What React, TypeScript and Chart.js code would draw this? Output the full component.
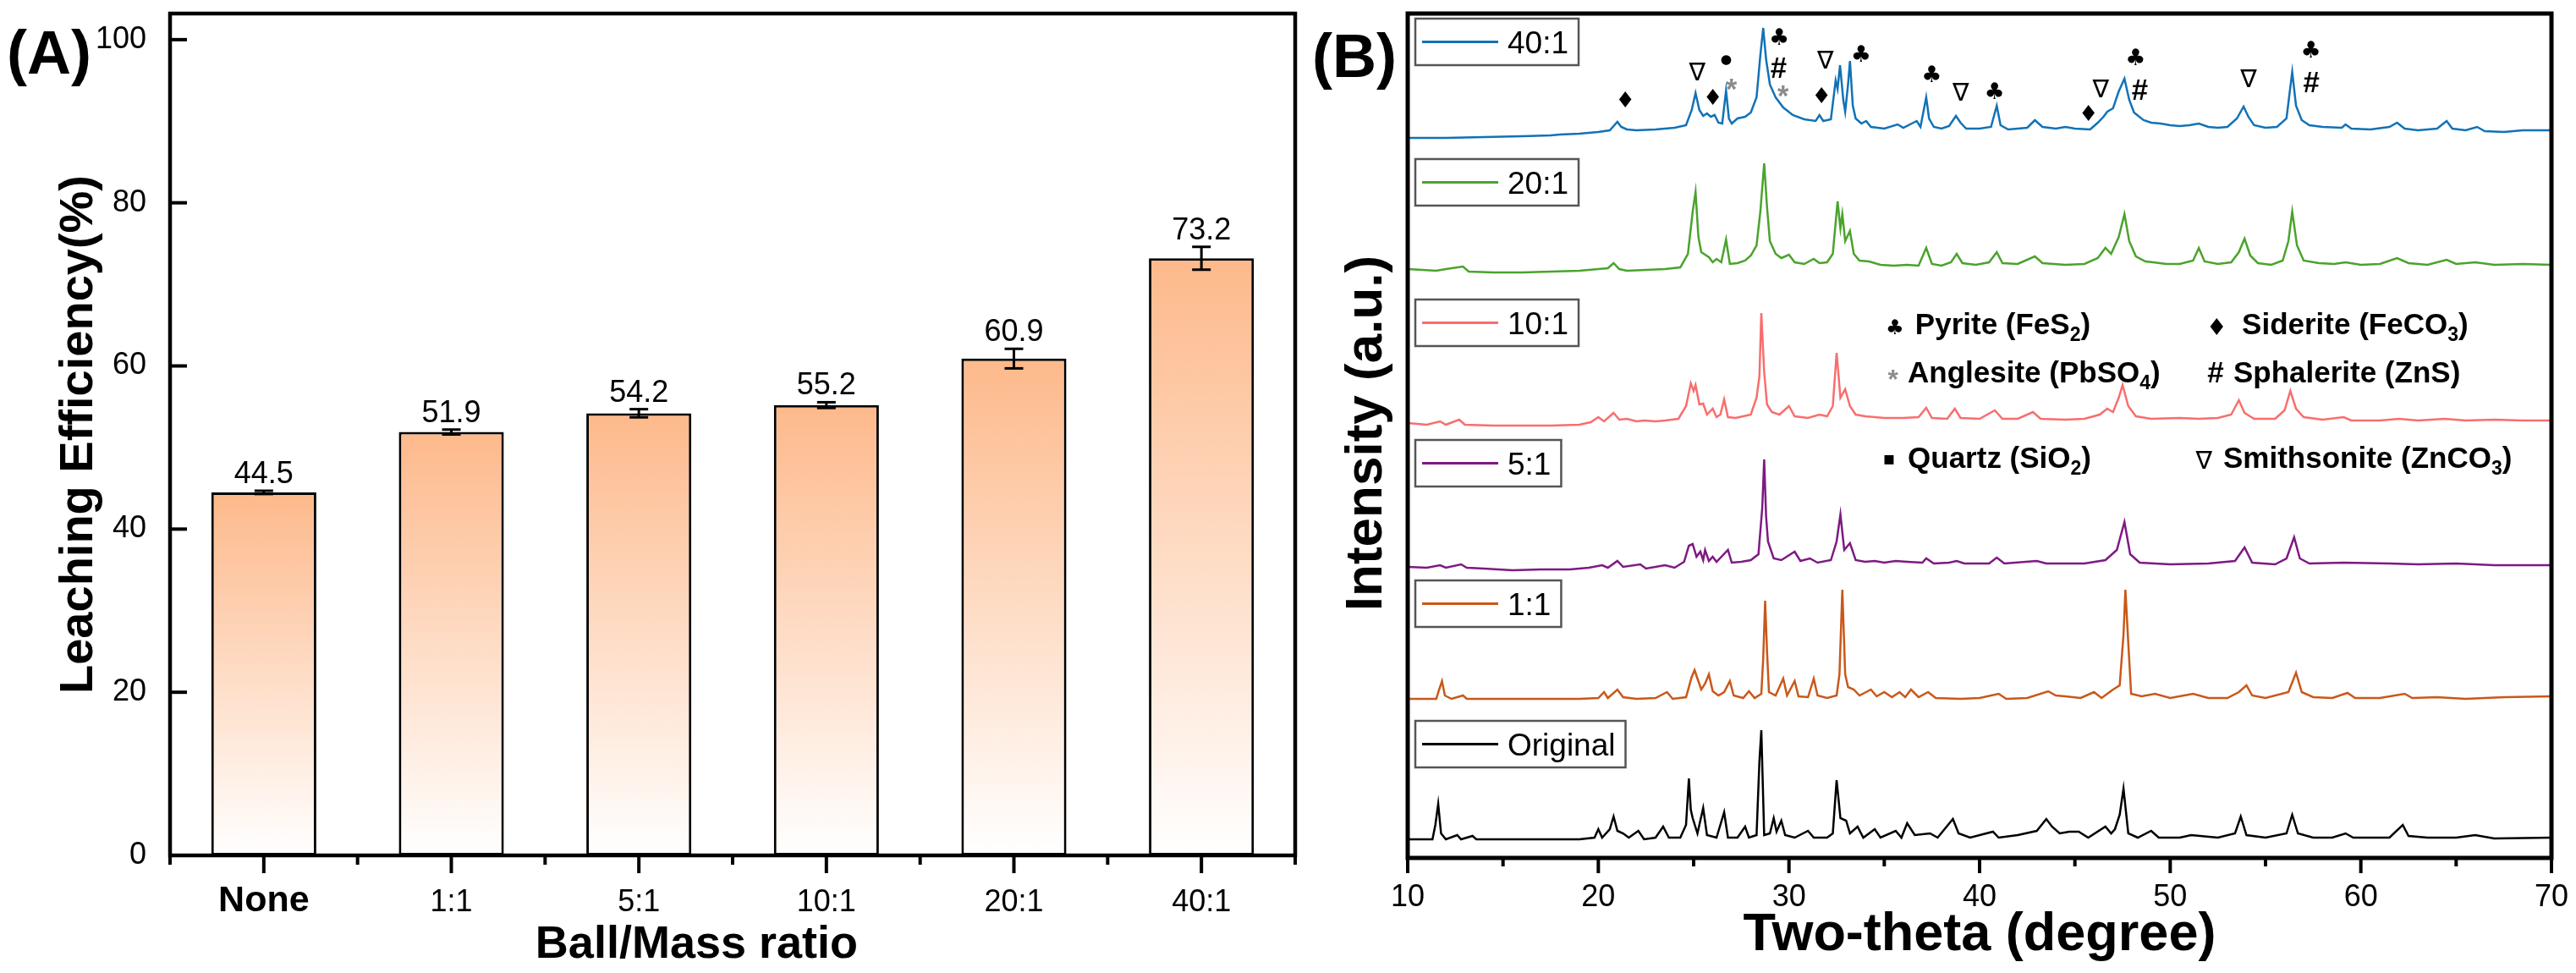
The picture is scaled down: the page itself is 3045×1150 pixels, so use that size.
import React, { useEffect, useRef } from "react";
import { Chart, registerables } from "chart.js";

Chart.register(...registerables);

const FONT = '"Liberation Sans", Arial, Helvetica, sans-serif';
const SYM_FONT = '"DejaVu Sans", "Liberation Sans", sans-serif';

// ---------------- Panel A data ----------------
const categories = ["None", "1:1", "5:1", "10:1", "20:1", "40:1"];
const efficiency = [44.5, 51.9, 54.2, 55.2, 60.9, 73.2];
const efficiencyErr = [0.2, 0.3, 0.5, 0.35, 1.2, 1.4];
const yTicksA = [0, 20, 40, 60, 80, 100];

// ---------------- Panel B data (2-theta, stacked intensity a.u.) ----------------
const xTicksB = [10, 20, 30, 40, 50, 60, 70];
const seriesNames = ["40:1", "20:1", "10:1", "5:1", "1:1", "Original"];

const xrd40: [number, number][] = [
  [10.0, 851], [12.0, 851], [14.0, 852], [16.0, 853], [17.5, 854], [18.0, 855], [19.0, 856], [20.0, 858],
  [20.6, 860], [21.0, 870], [21.2, 864], [21.5, 861], [22.0, 860], [23.0, 861], [24.0, 863], [24.6, 866],
  [24.9, 884], [25.1, 904], [25.3, 884], [25.5, 877], [25.7, 880], [25.9, 876], [26.1, 878], [26.3, 869],
  [26.5, 868], [26.7, 907], [26.85, 874], [27.0, 868], [27.3, 874], [27.7, 876], [28.0, 881], [28.3, 899],
  [28.5, 949], [28.65, 981], [28.8, 944], [29.0, 914], [29.3, 899], [29.7, 887], [30.2, 878], [30.8, 873],
  [31.4, 871], [31.6, 878], [31.8, 871], [32.2, 873], [32.45, 919], [32.55, 909], [32.68, 937], [32.85, 896],
  [32.95, 882], [33.1, 914], [33.2, 942], [33.35, 889], [33.5, 874], [33.8, 868], [34.05, 871], [34.3, 864],
  [35.0, 862], [35.7, 867], [36.0, 863], [36.7, 871], [36.9, 864], [37.2, 899], [37.35, 874], [37.6, 864],
  [38.0, 862], [38.4, 865], [38.76, 877], [39.0, 869], [39.3, 862], [40.0, 862], [40.6, 864], [40.9, 889],
  [41.1, 866], [41.5, 861], [42.5, 863], [42.9, 872], [43.3, 864], [44.0, 862], [44.5, 864], [45.0, 862],
  [45.8, 861], [46.2, 869], [46.5, 876], [46.7, 882], [47.0, 886], [47.3, 906], [47.6, 921], [47.85, 896],
  [48.1, 881], [48.6, 872], [49.0, 869], [49.5, 868], [50.0, 866], [50.5, 865], [51.0, 866], [51.5, 868],
  [52.0, 864], [52.5, 863], [53.0, 864], [53.5, 874], [53.85, 888], [54.1, 876], [54.4, 866], [55.0, 863],
  [55.6, 864], [56.1, 874], [56.4, 929], [56.6, 889], [56.9, 872], [57.3, 866], [58.0, 864], [59.0, 863],
  [59.2, 867], [59.5, 862], [60.5, 861], [61.5, 864], [61.9, 869], [62.3, 862], [63.0, 860], [64.0, 862],
  [64.5, 871], [64.8, 862], [65.5, 860], [66.1, 864], [66.5, 859], [67.5, 858], [68.5, 860], [70.0, 860],
];

const xrd20: [number, number][] = [
  [10.0, 696], [11.5, 694], [12.0, 696], [12.9, 699], [13.2, 693], [14.5, 692], [16.0, 692], [17.5, 693],
  [19.0, 694], [20.0, 696], [20.5, 697], [20.8, 703], [21.1, 696], [21.5, 694], [22.5, 695], [23.5, 696],
  [24.3, 698], [24.7, 714], [24.95, 764], [25.1, 787], [25.25, 734], [25.4, 716], [25.6, 713], [25.8, 710],
  [26.0, 704], [26.2, 708], [26.45, 704], [26.7, 731], [26.9, 702], [27.3, 703], [27.7, 706], [28.0, 712],
  [28.3, 724], [28.5, 764], [28.7, 821], [28.85, 769], [29.0, 729], [29.3, 714], [29.6, 709], [30.0, 713],
  [30.3, 704], [30.8, 702], [31.3, 708], [31.6, 703], [32.0, 704], [32.3, 714], [32.55, 776], [32.7, 744],
  [32.8, 761], [32.95, 729], [33.2, 741], [33.4, 714], [33.7, 706], [34.2, 705], [34.8, 701], [35.5, 700],
  [36.2, 701], [36.8, 700], [37.2, 721], [37.5, 702], [38.0, 700], [38.5, 704], [38.8, 714], [39.1, 703],
  [39.8, 701], [40.5, 704], [40.9, 716], [41.2, 703], [42.0, 702], [42.9, 711], [43.3, 703], [44.5, 701],
  [45.5, 702], [46.2, 709], [46.6, 721], [46.9, 714], [47.3, 734], [47.6, 761], [47.85, 729], [48.2, 711],
  [48.7, 705], [49.1, 704], [49.8, 702], [50.5, 702], [51.2, 706], [51.5, 721], [51.8, 705], [52.5, 702],
  [53.2, 704], [53.6, 716], [53.9, 732], [54.2, 712], [54.6, 703], [55.3, 701], [55.9, 706], [56.2, 729],
  [56.4, 764], [56.65, 724], [57.0, 706], [57.8, 703], [58.6, 702], [59.2, 704], [60.0, 701], [61.0, 702],
  [61.9, 709], [62.5, 703], [63.5, 701], [64.5, 707], [65.0, 702], [66.0, 704], [67.0, 701], [68.5, 702],
  [70.0, 701],
];

const xrd10: [number, number][] = [
  [10.0, 514], [11.0, 512], [11.7, 516], [12.0, 512], [12.7, 518], [13.0, 512], [14.5, 511], [16.0, 511],
  [17.5, 511], [19.0, 512], [19.6, 515], [20.0, 521], [20.3, 516], [20.8, 526], [21.1, 518], [21.5, 519],
  [22.0, 516], [22.4, 517], [23.0, 516], [23.5, 517], [24.2, 519], [24.6, 534], [24.85, 561], [25.0, 552],
  [25.1, 559], [25.3, 536], [25.5, 537], [25.7, 524], [26.0, 531], [26.2, 521], [26.4, 524], [26.6, 542],
  [26.8, 521], [27.2, 520], [27.6, 522], [28.0, 524], [28.3, 544], [28.45, 569], [28.55, 644], [28.7, 574],
  [28.85, 536], [29.1, 527], [29.5, 524], [30.0, 534], [30.3, 522], [31.0, 520], [31.6, 524], [32.0, 522],
  [32.3, 534], [32.5, 597], [32.7, 544], [32.95, 554], [33.2, 534], [33.5, 524], [34.0, 522], [35.0, 520],
  [36.0, 520], [36.8, 521], [37.2, 532], [37.5, 520], [38.3, 519], [38.7, 531], [39.0, 520], [40.0, 519],
  [40.8, 529], [41.2, 519], [42.0, 519], [42.8, 527], [43.2, 519], [44.5, 518], [45.5, 519], [46.3, 524],
  [46.7, 531], [47.0, 527], [47.3, 544], [47.5, 559], [47.8, 534], [48.2, 522], [49.0, 519], [50.5, 520],
  [51.5, 519], [52.5, 520], [53.2, 524], [53.6, 541], [53.9, 526], [54.4, 519], [55.5, 519], [56.0, 529],
  [56.3, 552], [56.6, 531], [57.0, 521], [58.0, 518], [59.1, 521], [59.5, 517], [61.0, 517], [62.0, 519],
  [63.0, 517], [64.4, 519], [65.5, 517], [67.0, 518], [68.5, 517], [70.0, 517],
];

const xrd5: [number, number][] = [
  [10.0, 344], [11.0, 343], [11.7, 346], [12.0, 343], [12.8, 347], [13.1, 343], [14.0, 342], [15.5, 340],
  [17.0, 341], [18.5, 341], [19.5, 343], [20.2, 346], [20.5, 343], [21.0, 351], [21.3, 344], [22.2, 347],
  [22.5, 342], [23.5, 346], [24.0, 343], [24.5, 350], [24.75, 369], [24.95, 371], [25.15, 356], [25.35, 362],
  [25.5, 352], [25.6, 364], [25.8, 351], [26.0, 356], [26.2, 350], [26.8, 364], [27.0, 349], [27.5, 350],
  [28.0, 352], [28.4, 359], [28.6, 414], [28.7, 471], [28.8, 404], [28.9, 374], [29.2, 354], [29.6, 352],
  [30.3, 362], [30.6, 351], [31.1, 354], [31.5, 349], [32.2, 352], [32.5, 374], [32.7, 406], [32.9, 364],
  [33.2, 372], [33.5, 352], [34.0, 350], [34.5, 351], [35.0, 349], [35.6, 351], [36.2, 350], [37.0, 349],
  [37.2, 354], [37.6, 348], [38.4, 349], [38.8, 351], [39.2, 348], [40.5, 348], [40.9, 355], [41.3, 348],
  [43.0, 351], [43.5, 348], [45.5, 348], [46.6, 352], [47.2, 364], [47.6, 397], [47.9, 359], [48.4, 349],
  [50.0, 347], [52.0, 348], [53.4, 351], [53.9, 367], [54.3, 349], [55.5, 347], [56.1, 354], [56.5, 379],
  [56.8, 354], [57.3, 348], [59.1, 349], [61.5, 348], [63.0, 347], [65.0, 348], [67.0, 346], [70.0, 346],
];

const xrd1: [number, number][] = [
  [10.0, 188], [11.5, 188], [11.65, 199], [11.8, 209], [11.95, 192], [12.3, 188], [12.9, 192], [13.1, 188],
  [15.0, 188], [17.0, 188], [19.0, 188], [20.0, 189], [20.3, 196], [20.5, 189], [21.0, 199], [21.3, 190],
  [22.0, 188], [23.0, 189], [23.6, 196], [23.9, 188], [24.6, 190], [24.9, 214], [25.05, 222], [25.2, 212],
  [25.4, 199], [25.6, 206], [25.8, 217], [26.0, 197], [26.3, 192], [26.6, 196], [26.9, 209], [27.1, 192],
  [27.6, 189], [27.9, 197], [28.2, 189], [28.55, 194], [28.65, 236], [28.75, 304], [28.85, 244], [28.95, 196],
  [29.3, 192], [29.7, 212], [29.9, 192], [30.3, 209], [30.5, 191], [31.0, 190], [31.3, 212], [31.5, 192],
  [32.0, 189], [32.5, 192], [32.65, 217], [32.8, 317], [32.95, 217], [33.1, 202], [33.4, 199], [33.7, 192],
  [34.3, 199], [34.6, 191], [35.0, 196], [35.4, 190], [35.8, 196], [36.1, 190], [36.4, 199], [36.8, 190],
  [37.3, 196], [37.7, 189], [39.0, 188], [40.0, 189], [41.0, 194], [41.4, 188], [42.5, 189], [43.6, 197],
  [44.0, 192], [44.5, 191], [45.3, 189], [46.0, 196], [46.4, 189], [47.0, 199], [47.35, 204], [47.55, 264],
  [47.65, 317], [47.8, 254], [47.95, 194], [48.5, 191], [49.2, 194], [50.0, 189], [51.2, 194], [52.0, 189],
  [53.0, 189], [53.6, 196], [54.0, 204], [54.3, 192], [55.0, 189], [56.2, 196], [56.6, 219], [56.9, 196],
  [57.5, 190], [58.5, 189], [59.3, 195], [59.7, 189], [61.0, 189], [62.3, 194], [62.7, 189], [64.0, 190],
  [65.5, 188], [67.5, 190], [70.0, 191],
];

const xrdOriginal: [number, number][] = [
  [10.0, 22], [11.3, 22], [11.45, 39], [11.6, 64], [11.75, 29], [12.0, 22], [12.6, 27], [12.8, 22],
  [13.4, 26], [13.6, 22], [15.0, 22], [17.0, 22], [19.0, 22], [19.8, 24], [20.0, 34], [20.2, 24],
  [20.6, 34], [20.8, 49], [21.0, 32], [21.3, 29], [21.6, 24], [22.1, 32], [22.4, 22], [23.0, 24],
  [23.4, 37], [23.7, 24], [24.3, 24], [24.6, 39], [24.75, 94], [24.85, 57], [24.95, 47], [25.2, 29],
  [25.5, 59], [25.7, 27], [26.2, 24], [26.6, 54], [26.8, 24], [27.3, 24], [27.7, 37], [27.9, 24],
  [28.3, 27], [28.45, 114], [28.55, 151], [28.7, 27], [29.0, 29], [29.2, 47], [29.35, 31], [29.6, 44],
  [29.8, 27], [30.3, 24], [31.0, 32], [31.3, 24], [32.0, 24], [32.3, 29], [32.5, 92], [32.7, 47],
  [33.0, 44], [33.2, 29], [33.6, 37], [33.9, 24], [34.5, 34], [34.8, 24], [35.6, 32], [35.9, 24],
  [36.2, 41], [36.6, 27], [37.4, 29], [37.8, 24], [38.6, 46], [38.9, 29], [39.5, 24], [40.7, 31],
  [41.0, 24], [42.0, 27], [43.0, 32], [43.5, 46], [43.8, 37], [44.2, 29], [44.7, 31], [45.2, 31],
  [45.7, 24], [46.6, 37], [46.9, 29], [47.1, 34], [47.35, 51], [47.55, 82], [47.8, 29], [48.3, 24],
  [49.0, 32], [49.4, 24], [50.5, 24], [51.1, 27], [52.5, 24], [53.4, 29], [53.7, 49], [54.0, 27],
  [55.0, 24], [56.1, 29], [56.4, 51], [56.7, 29], [57.5, 24], [58.5, 24], [59.2, 29], [59.6, 24],
  [61.5, 24], [62.2, 39], [62.5, 26], [63.5, 24], [65.0, 24], [66.0, 27], [67.0, 23], [70.0, 24],
];

const seriesData = [xrd40, xrd20, xrd10, xrd5, xrd1, xrdOriginal];

// phase markers above the 40:1 pattern: [symbol, 2-theta, intensity]
const peakMarks: [string, number, number][] = [
  ["♦", 21.4, 897], ["∇", 25.18, 930], ["♦", 26.0, 900], ["●", 26.7, 943], ["*", 27.0, 914],
  ["♣", 29.5, 971], ["#", 29.45, 934], ["*", 29.7, 906], ["∇", 31.9, 944], ["♦", 31.7, 902],
  ["♣", 33.8, 951], ["♣", 37.5, 927], ["∇", 39.0, 906], ["♣", 40.8, 907], ["♦", 45.7, 881],
  ["∇", 46.35, 910], ["♣", 48.2, 947], ["#", 48.4, 908], ["∇", 54.1, 922], ["♣", 57.4, 956],
  ["#", 57.4, 917],
];

// phase key
const keySymbols = ["♣", "♦", "*", "#", "▪", "∇"];
const keyNames = [
  ["Pyrite (FeS", "2", ")"],
  ["Siderite (FeCO", "3", ")"],
  ["Anglesite (PbSO", "4", ")"],
  ["Sphalerite (ZnS)", "", ""],
  ["Quartz (SiO", "2", ")"],
  ["Smithsonite (ZnCO", "3", ")"],
];

// ---------------- layout / style constants ----------------
const seriesColors = ["#1272B6", "#4AA32C", "#F86E6E", "#7E1A83", "#C9581A", "#000000"];
// [symbol 2-theta, text 2-theta, baseline intensity]
const keyPos = [
  [35.56, 36.62, 619], [52.43, 53.76, 619],
  [35.47, 36.23, 562], [52.38, 53.31, 562],
  [35.25, 36.23, 461], [51.76, 52.78, 461],
];
const legendTop0 = 22;
const legendStep = 166;

// target glyph heights (px) and colours for marker symbols
const markStyle: Record<string, { h: number; color: string; bold?: boolean; font?: string }> = {
  "♣": { h: 20, color: "#000" },
  "♦": { h: 19, color: "#000" },
  "∇": { h: 21, color: "#000" },
  "●": { h: 12, color: "#000" },
  "*": { h: 13, color: "#8c8c8c", bold: true, font: FONT },
  "#": { h: 24, color: "#000", bold: true, font: FONT },
  "▪": { h: 11, color: "#000" },
};
const keyMarkH: Record<string, number> = { "♣": 18, "♦": 20, "*": 12, "▪": 11, "∇": 21 };

function line(ctx: CanvasRenderingContext2D, x1: number, y1: number, x2: number, y2: number) {
  ctx.beginPath();
  ctx.moveTo(x1, y1);
  ctx.lineTo(x2, y2);
  ctx.stroke();
}

// draw a symbol whose glyph box is centred on (cx, cy) with a given glyph height
function drawSymbol(ctx: CanvasRenderingContext2D, s: string, cx: number, cy: number, hOverride?: number) {
  const st = markStyle[s] || { h: 20, color: "#000" };
  const h = hOverride || st.h;
  const fam = st.font || SYM_FONT;
  const w = st.bold ? "bold " : "";
  ctx.save();
  ctx.font = `${w}100px ${fam}`;
  const m0 = ctx.measureText(s);
  const gh = (m0.actualBoundingBoxAscent + m0.actualBoundingBoxDescent) || 70;
  const size = (100 * h) / gh;
  ctx.font = `${w}${size}px ${fam}`;
  const m = ctx.measureText(s);
  ctx.fillStyle = st.color;
  ctx.textAlign = "left";
  ctx.textBaseline = "alphabetic";
  const x = cx - (m.actualBoundingBoxRight - m.actualBoundingBoxLeft) / 2;
  const y = cy + (m.actualBoundingBoxAscent - m.actualBoundingBoxDescent) / 2;
  ctx.fillText(s, x, y);
  ctx.restore();
}

const panelAPlugin = {
  id: "panelA",
  afterDatasetsDraw(chart: any) {
    const { ctx, scales } = chart;
    const y = scales.y;
    const meta = chart.getDatasetMeta(0);
    ctx.save();
    ctx.strokeStyle = "#000";
    ctx.fillStyle = "#000";
    ctx.lineWidth = 3;
    meta.data.forEach((bar: any, i: number) => {
      const x = bar.x;
      const yTop = y.getPixelForValue(efficiency[i] + efficiencyErr[i]);
      const yBot = y.getPixelForValue(efficiency[i] - efficiencyErr[i]);
      line(ctx, x, yTop, x, yBot);
      line(ctx, x - 11, yTop, x + 11, yTop);
      line(ctx, x - 11, yBot, x + 11, yBot);
      ctx.font = `36px ${FONT}`;
      ctx.textAlign = "center";
      ctx.textBaseline = "alphabetic";
      ctx.fillText(efficiency[i].toFixed(1), x, yTop - 9);
    });
    ctx.restore();
  },
  afterDraw(chart: any) {
    const { ctx, chartArea: ca, scales } = chart;
    const x = scales.x;
    const y = scales.y;
    ctx.save();
    ctx.strokeStyle = "#000";
    ctx.lineWidth = 4.5;
    ctx.strokeRect(ca.left, ca.top, ca.right - ca.left, ca.bottom - ca.top);
    ctx.lineWidth = 4;
    for (const v of yTicksA) {
      const py = y.getPixelForValue(v);
      line(ctx, ca.left, py, ca.left + 20, py);
    }
    for (let i = 0; i < categories.length; i++) {
      const px = x.getPixelForValue(i);
      line(ctx, px, ca.bottom, px, ca.bottom + 21);
    }
    for (let i = 0; i <= categories.length; i++) {
      const px = x.getPixelForValue(i - 0.5);
      line(ctx, px, ca.bottom, px, ca.bottom + 11);
    }
    ctx.fillStyle = "#000";
    ctx.textAlign = "center";
    ctx.textBaseline = "alphabetic";
    categories.forEach((c, i) => {
      ctx.font = i === 0 ? `bold 43px ${FONT}` : `36px ${FONT}`;
      ctx.fillText(c, x.getPixelForValue(i), ca.bottom + 66);
    });
    ctx.font = `bold 54px ${FONT}`;
    ctx.fillText("Ball/Mass ratio", ca.left + 0.468 * (ca.right - ca.left), ca.bottom + 121);
    ctx.save();
    ctx.translate(109, (ca.top + ca.bottom) / 2);
    ctx.rotate(-Math.PI / 2);
    ctx.font = `bold 56px ${FONT}`;
    ctx.fillText("Leaching Efficiency(%)", 0, 0);
    ctx.restore();
    ctx.textAlign = "left";
    ctx.font = `bold 72px ${FONT}`;
    ctx.fillText("(A)", 8, 87);
    ctx.restore();
  },
};

const panelBPlugin = {
  id: "panelB",
  afterDatasetsDraw(chart: any) {
    const { ctx, chartArea: ca, scales } = chart;
    const x = scales.x;
    const y = scales.y;
    ctx.save();
    for (const [s, t, v] of peakMarks) {
      drawSymbol(ctx, s, x.getPixelForValue(t), y.getPixelForValue(v));
    }
    keySymbols.forEach((s, i) => {
      const [ts, tt, bv] = keyPos[i];
      const by = y.getPixelForValue(bv);
      if (s === "#") {
        ctx.font = `bold 35px ${FONT}`;
        ctx.fillStyle = "#000";
        ctx.textAlign = "center";
        ctx.textBaseline = "alphabetic";
        ctx.fillText("#", x.getPixelForValue(ts), by);
      } else {
        drawSymbol(ctx, s, x.getPixelForValue(ts), by - (s === "▪" || s === "∇" ? 10 : 9), keyMarkH[s]);
      }
      const [a, sub, b] = keyNames[i];
      let cx = x.getPixelForValue(tt);
      ctx.fillStyle = "#000";
      ctx.textAlign = "left";
      ctx.textBaseline = "alphabetic";
      ctx.font = `bold 35px ${FONT}`;
      ctx.fillText(a, cx, by);
      cx += ctx.measureText(a).width;
      if (sub) {
        ctx.font = `bold 23px ${FONT}`;
        ctx.fillText(sub, cx, by + 8);
        cx += ctx.measureText(sub).width;
      }
      if (b) {
        ctx.font = `bold 35px ${FONT}`;
        ctx.fillText(b, cx, by);
      }
    });
    seriesNames.forEach((name, i) => {
      const top = legendTop0 + i * legendStep;
      const left = ca.left + 9;
      ctx.font = `37px ${FONT}`;
      const tw = ctx.measureText(name).width;
      const w = 111 + tw + 10;
      const h = 55;
      ctx.fillStyle = "#fff";
      ctx.fillRect(left, top, w, h);
      ctx.strokeStyle = "#555";
      ctx.lineWidth = 2.5;
      ctx.strokeRect(left, top, w, h);
      ctx.strokeStyle = seriesColors[i];
      ctx.lineWidth = 3;
      line(ctx, left + 8, top + h / 2, left + 98, top + h / 2);
      ctx.fillStyle = "#000";
      ctx.textAlign = "left";
      ctx.textBaseline = "alphabetic";
      ctx.fillText(name, left + 109, top + h / 2 + 13);
    });
    ctx.restore();
  },
  afterDraw(chart: any) {
    const { ctx, chartArea: ca, scales } = chart;
    const x = scales.x;
    ctx.save();
    ctx.strokeStyle = "#000";
    ctx.lineWidth = 5;
    ctx.strokeRect(ca.left, ca.top, ca.right - ca.left, ca.bottom - ca.top);
    ctx.lineWidth = 4;
    for (const v of xTicksB) {
      const px = x.getPixelForValue(v);
      line(ctx, px, ca.bottom, px, ca.bottom + 18);
    }
    for (let i = 0; i < xTicksB.length - 1; i++) {
      const px = x.getPixelForValue((xTicksB[i] + xTicksB[i + 1]) / 2);
      line(ctx, px, ca.bottom, px, ca.bottom + 10);
    }
    ctx.fillStyle = "#000";
    ctx.textAlign = "center";
    ctx.textBaseline = "alphabetic";
    ctx.font = `bold 63px ${FONT}`;
    ctx.fillText("Two-theta (degree)", (ca.left + ca.right) / 2, ca.bottom + 109);
    ctx.save();
    ctx.translate(ca.left - 31, 512);
    ctx.rotate(-Math.PI / 2);
    ctx.font = `bold 62px ${FONT}`;
    ctx.fillText("Intensity (a.u.)", 0, 0);
    ctx.restore();
    ctx.textAlign = "left";
    ctx.font = `bold 72px ${FONT}`;
    ctx.fillText("(B)", 11, 91);
    ctx.restore();
  },
};

export default function App() {
  const refA = useRef<HTMLCanvasElement>(null);
  const refB = useRef<HTMLCanvasElement>(null);

  useEffect(() => {
    document.body.style.margin = "0";
    const chartA = new Chart(refA.current as HTMLCanvasElement, {
      type: "bar",
      data: {
        labels: categories,
        datasets: [
          {
            data: efficiency,
            backgroundColor: (c: any) => {
              const chart = c.chart;
              const area = chart.chartArea;
              if (!area || c.dataIndex === undefined) return "rgb(253,185,139)";
              const ys = chart.scales.y;
              const top = ys.getPixelForValue(efficiency[c.dataIndex]);
              const base = ys.getPixelForValue(0);
              const g = chart.ctx.createLinearGradient(0, top, 0, base);
              g.addColorStop(0, "rgb(253,185,139)");
              g.addColorStop(1, "rgb(255,255,255)");
              return g;
            },
            borderColor: "#000",
            borderWidth: 3,
            borderSkipped: false,
            barPercentage: 0.56,
            categoryPercentage: 1,
          } as any,
        ],
      },
      options: {
        animation: false,
        responsive: false,
        devicePixelRatio: 1,
        layout: { padding: { left: 0, top: 16, right: 29, bottom: 0 } },
        plugins: { legend: { display: false }, tooltip: { enabled: false } },
        scales: {
          x: {
            type: "category",
            offset: true,
            grid: { display: false, drawTicks: false },
            border: { display: false },
            ticks: { display: false },
            afterFit: (s: any) => {
              s.height = 139;
              s.paddingLeft = 0;
              s.paddingRight = 0;
            },
          },
          y: {
            min: 0,
            max: 103.2,
            grid: { display: false, drawTicks: false },
            border: { display: false },
            ticks: { padding: 28, color: "#000", font: { family: FONT, size: 36 } },
            afterBuildTicks: (s: any) => {
              s.ticks = yTicksA.map((v) => ({ value: v }));
            },
            afterFit: (s: any) => {
              s.width = 201;
              s.paddingTop = 0;
              s.paddingBottom = 0;
            },
          },
        },
      } as any,
      plugins: [panelAPlugin],
    });

    const chartB = new Chart(refB.current as HTMLCanvasElement, {
      type: "line",
      data: {
        datasets: seriesData.map((d, i) => ({
          label: seriesNames[i],
          data: d.map(([t, v]) => ({ x: t, y: v })),
          borderColor: seriesColors[i],
          borderWidth: 2.5,
          pointRadius: 0,
          tension: 0,
          fill: false,
        })),
      },
      options: {
        animation: false,
        responsive: false,
        devicePixelRatio: 1,
        layout: { padding: { left: 124, top: 16, right: 29, bottom: 0 } },
        plugins: { legend: { display: false }, tooltip: { enabled: false } },
        scales: {
          x: {
            type: "linear",
            min: 10,
            max: 70,
            grid: { display: false, drawTicks: false },
            border: { display: false },
            ticks: { stepSize: 10, padding: 25, color: "#000", font: { family: FONT, size: 36 } },
            afterBuildTicks: (s: any) => {
              s.ticks = xTicksB.map((v) => ({ value: v }));
            },
            afterFit: (s: any) => {
              s.height = 136;
              s.paddingLeft = 0;
              s.paddingRight = 0;
            },
          },
          y: {
            display: false,
            min: 0,
            max: 998,
          },
        },
      } as any,
      plugins: [panelBPlugin],
    });

    return () => {
      chartA.destroy();
      chartB.destroy();
    };
  }, []);

  return (
    <div style={{ position: "relative", width: 3045, height: 1150, background: "#fff", overflow: "hidden" }}>
      <canvas
        ref={refA}
        width={1560}
        height={1150}
        style={{ position: "absolute", left: 0, top: 0, width: 1560, height: 1150 }}
      />
      <canvas
        ref={refB}
        width={1505}
        height={1150}
        style={{ position: "absolute", left: 1540, top: 0, width: 1505, height: 1150 }}
      />
    </div>
  );
}
